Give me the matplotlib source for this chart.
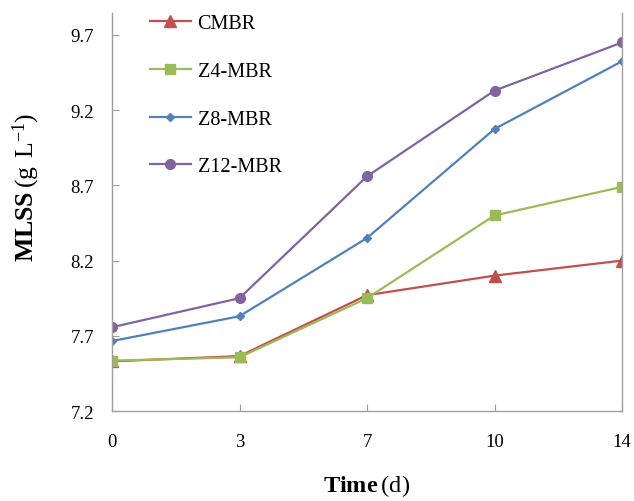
import matplotlib
matplotlib.use("Agg")
import matplotlib.pyplot as plt
import numpy as np

# category axis: days
days = ["0", "3", "7", "10", "14"]

cmbr = [7.53, 7.565, 7.97, 8.10, 8.20]
z4_mbr = [7.535, 7.557, 7.95, 8.50, 8.69]
z8_mbr = [7.665, 7.83, 8.35, 9.075, 9.525]
z12_mbr = [7.757, 7.95, 8.76, 9.33, 9.65]

series = [
    ("CMBR", cmbr, "#C0504D", "^", 8),
    ("Z4-MBR", z4_mbr, "#9BBB59", "s", 6.5),
    ("Z8-MBR", z8_mbr, "#4F81BD", "D", 4.5),
    ("Z12-MBR", z12_mbr, "#8064A2", "o", 7),
]

y_ticks = [7.2, 7.7, 8.2, 8.7, 9.2, 9.7]

plt.rcParams["font.family"] = ["Liberation Serif", "DejaVu Serif"]
plt.rcParams["mathtext.fontset"] = "custom"
plt.rcParams["mathtext.rm"] = "Liberation Serif"
plt.rcParams["mathtext.bf"] = "Liberation Serif:bold"

fig = plt.figure(figsize=(6.34, 5.02), dpi=100)
ax = fig.add_axes([112 / 634, 90 / 502, 510 / 634, 398 / 502])

x = np.arange(len(days))
for label, vals, color, marker, ms in series:
    ax.plot(x, vals, color=color, marker=marker, markersize=ms, linewidth=1.6,
            label=label, markeredgecolor=color)

ax.set_xlim(0, len(days) - 1)
ax.set_ylim(7.2, 9.846)
ax.set_xticks(x)
ax.set_xticklabels(days)
ax.set_yticks(y_ticks)
ax.set_yticklabels([f"{v:.1f}" for v in y_ticks])

for side in ["left", "right", "bottom"]:
    ax.spines[side].set_color("#A0A0A0")
    ax.spines[side].set_linewidth(1.0)
ax.spines["top"].set_visible(False)

ax.tick_params(axis="both", direction="in", length=5, color="#A0A0A0", labelsize=13.5)
ax.tick_params(axis="y", pad=13)
ax.tick_params(axis="x", pad=16)

ax.set_xlabel(r"$\mathbf{Time}\,\mathrm{(d)}$", fontsize=17.5, labelpad=16)
ax.set_ylabel(r"$\mathbf{MLSS}\,\mathrm{(g\ L^{-1})}$", fontsize=18.5)
ax.yaxis.set_label_coords(-0.137, 0.565)

ax.legend(loc="upper left", bbox_to_anchor=(0.075, 0.997), frameon=False,
          fontsize=14.5, labelspacing=1.42, handlelength=2.0, handletextpad=0.35,
          borderpad=0, borderaxespad=0)

fig.savefig("out.png", dpi=100)
